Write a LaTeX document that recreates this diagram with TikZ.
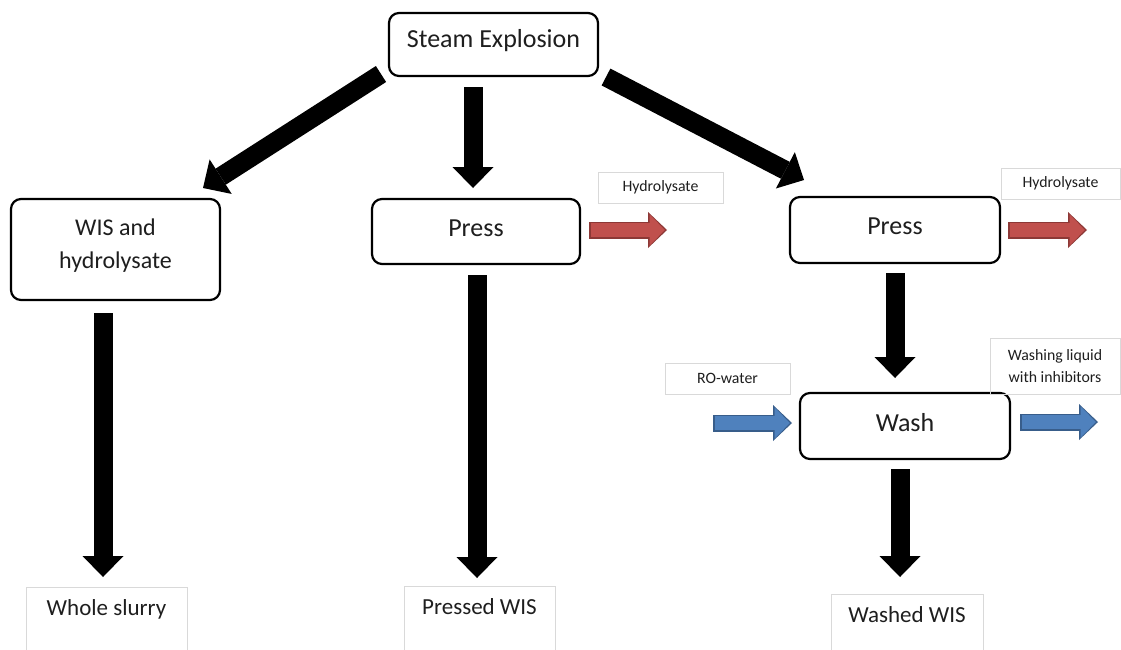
\documentclass[tikz,border=0pt]{standalone}
\usepackage{fontspec}
\setmainfont{Carlito}
\usetikzlibrary{arrows.meta,calc}
\definecolor{redfill}{HTML}{C0504D}
\definecolor{redline}{HTML}{8C3836}
\definecolor{bluefill}{HTML}{4F81BD}
\definecolor{blueline}{HTML}{385D8A}
\definecolor{labgray}{HTML}{D9D9D9}
\definecolor{txt}{HTML}{1E1E1E}
\newcommand{\upby}[1]{\raisebox{3.5pt}[\height][\depth]{#1}}
\begin{document}
\begin{tikzpicture}[x=1pt,y=-1pt,
  procbox/.style={draw=black, line width=2.2pt, rounded corners=10pt, fill=white,
    align=center, inner sep=0pt, text=txt, font=\fontsize{26}{30}\selectfont},
  labbox/.style={draw=labgray, line width=0.8pt, inner sep=0pt, align=center,
    text=txt, font=\fontsize{15.8}{20}\selectfont},
  endbox/.style={draw=labgray, line width=0.8pt, anchor=north, inner xsep=0pt,
    inner ysep=4pt, text height=24pt, text depth=40pt, text=txt,
    font=\fontsize{23}{27}\selectfont},
  fat/.style={draw=black, line width=19pt,
    -{Triangle[length=21pt,width=41pt,line width=0pt]}},
  flowout/.style={line width=17pt,
    -{Triangle[length=19pt,width=36pt,line width=0pt]}},
  flowin/.style={line width=14pt, shorten >=2.2pt, shorten <=1.5pt,
    -{Triangle[length=15.3pt,width=31.5pt,line width=0pt]}},
]
\useasboundingbox (0,0) rectangle (1121,649);

% process boxes
\node[procbox, minimum width=209pt, minimum height=63pt] (steam) at (493.5,44.5) {\upby{Steam Explosion}};
\node[procbox, minimum width=209pt, minimum height=101pt, font=\fontsize{24}{33}\selectfont] (wis) at (115.5,249.5) {\upby{WIS and}\\\upby{hydrolysate}};
\node[procbox, minimum width=208pt, minimum height=65pt] (press1) at (476,231.5) {\upby{Press}};
\node[procbox, minimum width=210pt, minimum height=66pt] (press2) at (895,230) {\upby{Press}};
\node[procbox, minimum width=210pt, minimum height=66pt] (wash) at (905,426) {\upby{Wash}};

% label boxes
\node[labbox, minimum width=125pt, minimum height=31pt] (hyd1) at (660.5,187.5) {Hydrolysate};
\node[labbox, minimum width=119pt, minimum height=31pt] (hyd2) at (1060.5,183.5) {Hydrolysate};
\node[labbox, minimum width=125pt, minimum height=31pt] (ro) at (727.5,378.5) {RO-water};
\node[labbox, minimum width=130pt, minimum height=56pt, font=\fontsize{15.8}{22}\selectfont] (wl) at (1055,366) {Washing liquid\\with inhibitors};

% end product boxes
\node[endbox, minimum width=161pt] (whole) at (106.5,587) {Whole slurry};
\node[endbox, minimum width=151pt] (pressed) at (479.5,586) {Pressed WIS};
\node[endbox, minimum width=152pt] (washed) at (907,594) {Washed WIS};

% arrow end points
\coordinate (a1s) at (381,74);   \coordinate (a1e) at (203,188);
\coordinate (a2s) at (473,87);   \coordinate (a2e) at (473,188);
\coordinate (a3s) at (606,77);   \coordinate (a3e) at (804,180);
\coordinate (a4s) at (103,313);  \coordinate (a4e) at (103,577);
\coordinate (a5s) at (477,275);  \coordinate (a5e) at (477,578);
\coordinate (a6s) at (895,273);  \coordinate (a6e) at (895,378);
\coordinate (a7s) at (900,469);  \coordinate (a7e) at (900,577);

\coordinate (r1s) at (589,230);  \coordinate (r1e) at (667,230);
\coordinate (r2s) at (1008,230); \coordinate (r2e) at (1087,230);
\coordinate (b1s) at (713,423);  \coordinate (b1e) at (792,423);
\coordinate (b2s) at (1020,422); \coordinate (b2e) at (1098,422);

% black block arrows
\draw[fat] (a1s) -- (a1e);
\draw[fat] (a2s) -- (a2e);
\draw[fat] (a3s) -- (a3e);
\draw[fat] (a4s) -- (a4e);
\draw[fat] (a5s) -- (a5e);
\draw[fat] (a6s) -- (a6e);
\draw[fat] (a7s) -- (a7e);

% red flows
\draw[flowout, draw=redline, fill=redline] (r1s) -- (r1e);
\draw[flowin, draw=redfill, fill=redfill] (r1s) -- (r1e);
\draw[flowout, draw=redline, fill=redline] (r2s) -- (r2e);
\draw[flowin, draw=redfill, fill=redfill] (r2s) -- (r2e);

% blue flows
\draw[flowout, draw=blueline, fill=blueline] (b1s) -- (b1e);
\draw[flowin, draw=bluefill, fill=bluefill] (b1s) -- (b1e);
\draw[flowout, draw=blueline, fill=blueline] (b2s) -- (b2e);
\draw[flowin, draw=bluefill, fill=bluefill] (b2s) -- (b2e);
\end{tikzpicture}
\end{document}
